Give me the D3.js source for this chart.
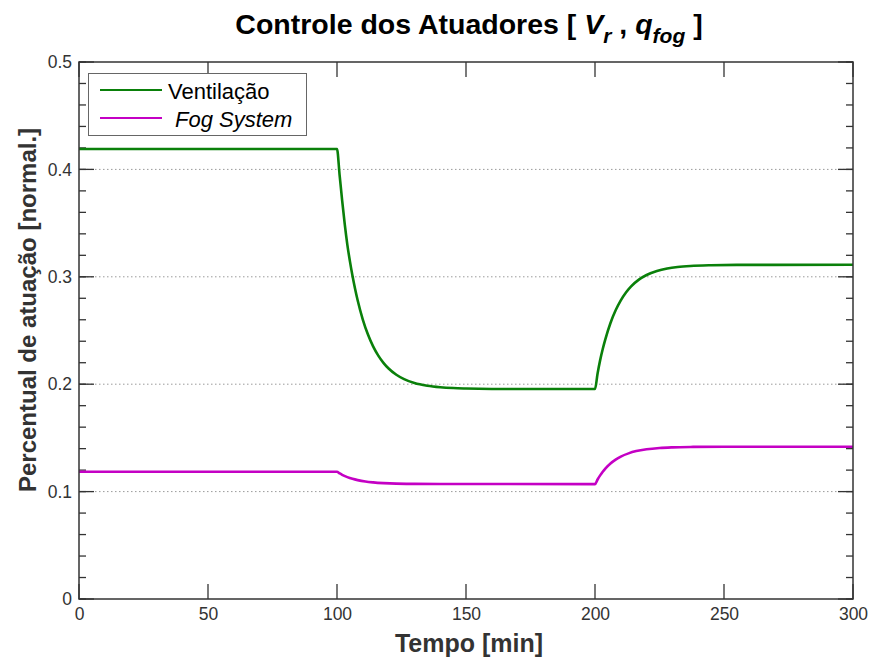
<!DOCTYPE html>
<html><head><meta charset="utf-8">
<script src="https://cdn.jsdelivr.net/npm/d3@7"></script>
<style>body{margin:0;background:#fff}svg{display:block}</style>
</head><body><svg id="c" width="872" height="659"></svg>
<script>
const xTicks = [0, 50, 100, 150, 200, 250, 300];
const yTicks = [0, 0.1, 0.2, 0.3, 0.4, 0.5];
const yGrid = [0.1, 0.2, 0.3, 0.4];
const seriesNames = ["Ventilação", "Fog System"];

const ventTime = [0,100,101,102,103,104,105,106,107,108,110,112,114,116,118,120,123,126,130,135,140,145,150,160,175,200,
                  201,202,203,204,206,208,210,212,214,217,220,224,228,232,237,245,255,300];
const ventVal  = [0.419,0.419,0.395,0.371,0.349,0.330,0.3146,0.3009,0.2888,0.2781,0.2602,0.2462,0.2352,0.2266,0.2199,0.2146,0.2088,0.2047,0.2011,0.1986,0.1972,0.1964,0.1960,0.1956,0.1955,0.1955,
                  0.2100,0.2224,0.2328,0.2418,0.2570,0.2688,0.2781,0.2854,0.2911,0.2974,0.3017,0.3054,0.3077,0.3091,0.3101,0.3108,0.3111,0.3112];

const fogTime = [0,100,101,102,104,106,108,111,114,118,123,130,140,200,
                 201,202,203,204,206,208,210,213,216,220,225,230,238,250,300];
const fogVal  = [0.1185,0.1185,0.1170,0.1156,0.1135,0.1119,0.1107,0.1094,0.1086,0.1079,0.1074,0.1072,0.1071,0.1070,
                 0.1113,0.1151,0.1185,0.1214,0.1262,0.1298,0.1326,0.1356,0.1377,0.1394,0.1406,0.1412,0.1416,0.1418,0.1418];

const colors = ["#0a800a", "#c400c4"];

const svg = d3.select("#c");
const L = 79, R = 853, T = 62, B = 599;
const x = d3.scaleLinear().domain([0, 300]).range([L, R]);
const y = d3.scaleLinear().domain([0, 0.5]).range([B, T]);
const axisCol = "#333";
const font = "Liberation Sans, Arial, sans-serif";

// grid
svg.append("g").selectAll("line").data(yGrid).join("line")
  .attr("x1", L).attr("x2", R).attr("y1", d => y(d)).attr("y2", d => y(d))
  .attr("stroke", "#9a9a9a").attr("stroke-width", 1).attr("stroke-dasharray", "1.5,2.5");

// ticks
const minor = d3.range(0, 0.5001, 0.02);
const mg = svg.append("g").attr("stroke", axisCol).attr("stroke-width", 1.3);
mg.selectAll(".ml").data(minor).join("line")
  .attr("x1", L).attr("x2", L + 7).attr("y1", d => y(d)).attr("y2", d => y(d));
mg.selectAll(".mr").data(minor).join("line")
  .attr("x1", R).attr("x2", R - 7).attr("y1", d => y(d)).attr("y2", d => y(d));
mg.selectAll(".Ml").data(yTicks).join("line")
  .attr("x1", L).attr("x2", L + 15).attr("y1", d => y(d)).attr("y2", d => y(d));
mg.selectAll(".Mr").data(yTicks).join("line")
  .attr("x1", R).attr("x2", R - 15).attr("y1", d => y(d)).attr("y2", d => y(d));
mg.selectAll(".xb").data(xTicks).join("line")
  .attr("x1", d => x(d)).attr("x2", d => x(d)).attr("y1", B).attr("y2", B - 15);
mg.selectAll(".xt").data(xTicks).join("line")
  .attr("x1", d => x(d)).attr("x2", d => x(d)).attr("y1", T).attr("y2", T + 15);

// lines
const line = d3.line().x(d => x(d[0])).y(d => y(d[1])).curve(d3.curveMonotoneX);
const vent = ventTime.map((t, i) => [t, ventVal[i]]);
const fog = fogTime.map((t, i) => [t, fogVal[i]]);
svg.append("path").datum(fog).attr("d", line).attr("fill", "none")
  .attr("stroke", colors[1]).attr("stroke-width", 2.6).attr("stroke-linejoin", "round");
svg.append("path").datum(vent).attr("d", line).attr("fill", "none")
  .attr("stroke", colors[0]).attr("stroke-width", 2.6).attr("stroke-linejoin", "round");

// box
svg.append("rect").attr("x", L).attr("y", T).attr("width", R - L).attr("height", B - T)
  .attr("fill", "none").attr("stroke", axisCol).attr("stroke-width", 1.5);

// tick labels
const xAxis = svg.append("g").attr("transform", `translate(0,${B})`)
  .call(d3.axisBottom(x).tickValues(xTicks).tickSize(0).tickPadding(9).tickFormat(d3.format("d")));
xAxis.select(".domain").remove();
xAxis.selectAll("text").attr("font-family", font).attr("font-size", 17.5).attr("fill", "#333");
const yAxis = svg.append("g").attr("transform", `translate(${L},0)`)
  .call(d3.axisLeft(y).tickValues(yTicks).tickSize(0).tickPadding(7).tickFormat(d => d === 0 ? "0" : d3.format(".1f")(d)));
yAxis.select(".domain").remove();
yAxis.selectAll("text").attr("font-family", font).attr("font-size", 17.5).attr("fill", "#333");

// legend
const lg = svg.append("g");
lg.append("rect").attr("x", 88.5).attr("y", 73.5).attr("width", 218).attr("height", 62)
  .attr("fill", "#fff").attr("stroke", "#666").attr("stroke-width", 1);
const items = [{n: seriesNames[0], c: colors[0], it: false, yy: 90, tx: 168},
               {n: seriesNames[1], c: colors[1], it: true, yy: 118, tx: 175}];
items.forEach(o => {
  lg.append("line").attr("x1", 100).attr("x2", 162).attr("y1", o.yy).attr("y2", o.yy)
    .attr("stroke", o.c).attr("stroke-width", 2.2);
  lg.append("text").attr("x", o.tx).attr("y", o.yy + 8.5).text(o.n)
    .attr("font-family", font).attr("font-size", 22).attr("fill", "#000")
    .attr("font-style", o.it ? "italic" : "normal");
});

// title
const t = svg.append("text").attr("x", 469).attr("y", 34).attr("text-anchor", "middle")
  .attr("font-family", font).attr("font-size", 28.5).attr("font-weight", "bold").attr("fill", "#000");
t.append("tspan").text("Controle dos Atuadores [ ");
t.append("tspan").text("V").attr("font-style", "italic");
t.append("tspan").text("r").attr("font-style", "italic").attr("font-size", 21).attr("dy", 9);
t.append("tspan").text(" , ").attr("dy", -9);
t.append("tspan").text("q").attr("font-style", "italic");
t.append("tspan").text("fog").attr("font-style", "italic").attr("font-size", 21).attr("dy", 9);
t.append("tspan").text(" ]").attr("dy", -9);

// axis titles
svg.append("text").attr("x", 469).attr("y", 652).attr("text-anchor", "middle")
  .attr("font-family", font).attr("font-size", 25).attr("font-weight", "bold").attr("fill", "#333")
  .text("Tempo [min]");
svg.append("text").attr("transform", "translate(36,310) rotate(-90)").attr("text-anchor", "middle")
  .attr("font-family", font).attr("font-size", 24).attr("font-weight", "bold").attr("fill", "#333")
  .text("Percentual de atuação [normal.]");
</script></body></html>
